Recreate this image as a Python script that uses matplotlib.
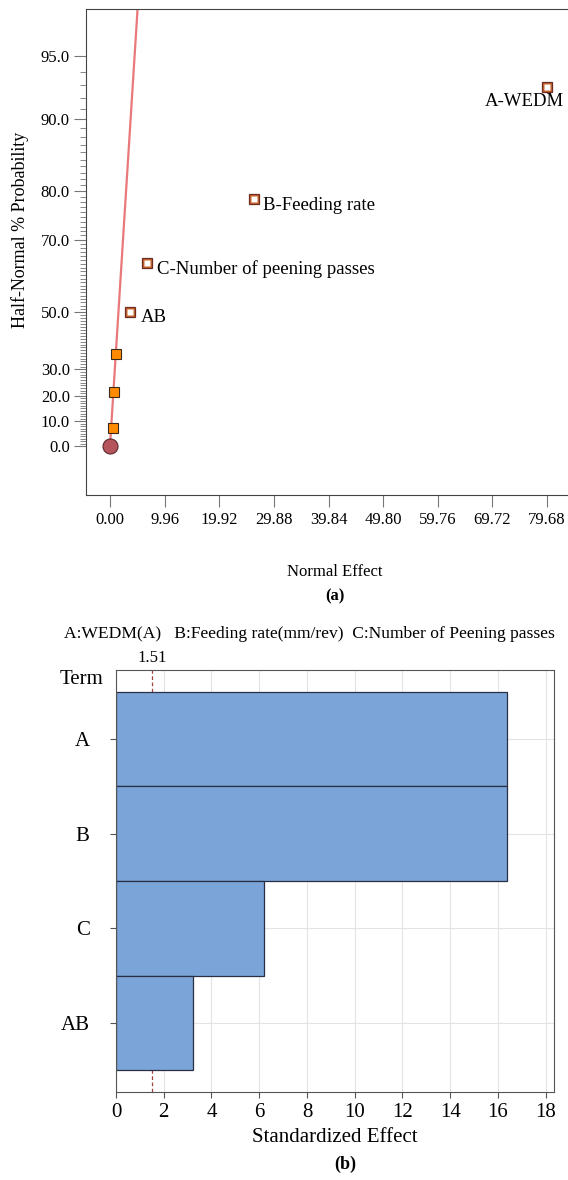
import numpy as np
import matplotlib
matplotlib.use("Agg")
import matplotlib.pyplot as plt
from matplotlib.ticker import FixedLocator
from statistics import NormalDist

plt.rcParams['font.family'] = ['Liberation Serif', 'DejaVu Serif']

# (a) half-normal plot data
error_effect = [0.55, 0.67, 1.04]
error_prob = [7.1, 21.4, 35.7]
term_names = ['AB', 'C-Number of peening passes', 'B-Feeding rate', 'A-WEDM']
term_effect = [3.6, 6.7, 26.2, 79.6]
term_prob = [50.0, 64.3, 78.6, 92.9]
origin_effect = [0.0]
origin_prob = [0.0]
fit_effect = [0.0, 5.9]
fit_prob = [0.0, 99.0]
prob_ticks = [0.0, 10.0, 20.0, 30.0, 50.0, 70.0, 80.0, 90.0, 95.0]
effect_ticks = [0.00, 9.96, 19.92, 29.88, 39.84, 49.80, 59.76, 69.72, 79.68]

# (b) pareto chart data
terms = ['A', 'B', 'C', 'AB']
std_effect = [16.4, 16.4, 6.2, 3.24]
t_limit = 1.51
std_ticks = [0, 2, 4, 6, 8, 10, 12, 14, 16, 18]

nd = NormalDist()
_inv = np.vectorize(lambda q: nd.inv_cdf(q))
_cdf = np.vectorize(lambda z: nd.cdf(z))


def half_fwd(p):
    p = np.clip(np.asarray(p, dtype=float), -99.9999, 99.9999)
    return _inv(0.5 + p / 200.0)


def half_inv(z):
    return 200.0 * (_cdf(np.asarray(z, dtype=float)) - 0.5)


W, H = 568, 1180
fig = plt.figure(figsize=(W / 100, H / 100), dpi=100)

# ---------- (a) ----------
ax1 = fig.add_axes([86 / W, 1 - 495 / H, 495.7 / W, 486 / H])
ax1.set_yscale('function', functions=(half_fwd, half_inv))
ax1.plot(fit_effect, fit_prob, color='#E8787A', lw=1.6, zorder=2)
ax1.plot(error_effect, error_prob, ls='none', marker='s', ms=6.5,
         mfc='#FF8C00', mec='#3A2A1A', mew=0.8, zorder=3)
ax1.plot(term_effect, term_prob, ls='none', marker='s', ms=7.6,
         mfc='#C8642D', mec='#6E2B20', mew=0.9, zorder=3)
ax1.plot(term_effect, term_prob, ls='none', marker='s', ms=4.8,
         mfc='white', mec='none', zorder=4)
ax1.plot(origin_effect, origin_prob, ls='none', marker='o', ms=10.8,
         mfc='#B5545C', mec='#5A2A2A', mew=0.8, zorder=4)

offsets = [(8, -4.3), (7.2, -4.3), (6.8, -5), (-44.6, -10.8)]
for name, x, y, off in zip(term_names, term_effect, term_prob, offsets):
    ax1.annotate(name, (x, y), xytext=off, textcoords='offset points',
                 ha='left', va='center', fontsize=13.5, annotation_clip=False)

ax1.set_xlim(-4.37, 86.0)
ax1.set_ylim(-19.4, 97.19)
ax1.set_xticks(effect_ticks)
ax1.set_xticklabels([f'{v:.2f}' for v in effect_ticks], fontsize=12)
ax1.set_yticks(prob_ticks)
ax1.set_yticklabels([f'{v:.1f}' for v in prob_ticks], fontsize=12)
minor = [v for v in range(0, 96) if float(v) not in prob_ticks]
ax1.yaxis.set_minor_locator(FixedLocator(minor))
ax1.tick_params(axis='y', which='major', length=8.6, width=0.8, color='#777777', pad=3)
ax1.tick_params(axis='y', which='minor', length=4.3, width=0.7, color='#888888')
ax1.tick_params(axis='x', which='major', length=8.6, width=0.8, color='#777777', pad=4)
for s in ['left', 'bottom', 'top']:
    ax1.spines[s].set_color('#444444')
ax1.spines['right'].set_visible(False)

fig.text(20 / W, 1 - 230 / H, 'Half-Normal % Probability', rotation=90,
         ha='center', va='center', fontsize=13)
fig.text(335 / W, 1 - 572 / H, 'Normal Effect', ha='center', va='center', fontsize=12)
fig.text(335 / W, 1 - 596 / H, '(a)', ha='center', va='center', fontsize=12,
         fontweight='bold')

# ---------- (b) ----------
ax2 = fig.add_axes([116 / W, 1 - 1092 / H, 438 / W, 422 / H])
ypos = np.arange(len(terms))
ax2.barh(ypos, std_effect, height=1.0, color='#7BA5D9', edgecolor='#2A2F45',
         linewidth=0.9, zorder=2)
ax2.axvline(t_limit, ls=(0, (3, 2)), color='#A0453C', lw=0.9, zorder=1)
ax2.set_xlim(0, 18.35)
ax2.set_ylim(3.73, -0.73)
ax2.set_xticks(std_ticks)
ax2.set_xticklabels([str(v) for v in std_ticks], fontsize=15)
ax2.set_yticks(ypos)
ax2.set_yticklabels(terms, fontsize=15)
ax2.grid(color='#E3E3E3', lw=0.8)
ax2.set_axisbelow(True)
ax2.tick_params(axis='y', length=4, color='#555555', pad=15)
ax2.tick_params(axis='x', length=4, color='#555555', pad=4)
for s in ax2.spines.values():
    s.set_color('#555555')
ax2.set_xlabel('Standardized Effect', fontsize=15, labelpad=4)
ax2.annotate(f'{t_limit:.2f}', (t_limit, -0.73), xytext=(0, 3),
             textcoords='offset points', ha='center', va='bottom', fontsize=12,
             annotation_clip=False)

fig.text(309 / W, 1 - 634 / H,
         'A:WEDM(A)   B:Feeding rate(mm/rev)  C:Number of Peening passes',
         ha='center', va='center', fontsize=12.6)
fig.text(81 / W, 1 - 679 / H, 'Term', ha='center', va='center', fontsize=15)
fig.text(345 / W, 1 - 1164 / H, '(b)', ha='center', va='center', fontsize=13,
         fontweight='bold')

fig.savefig('out.png', dpi=100)
